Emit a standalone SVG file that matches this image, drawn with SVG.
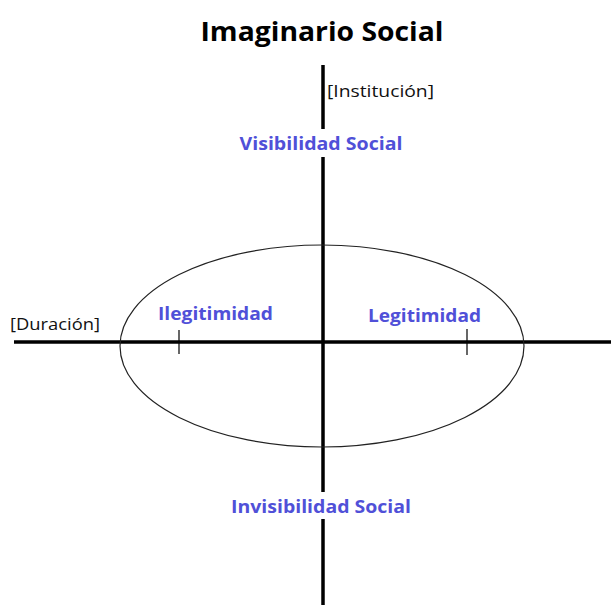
<svg xmlns="http://www.w3.org/2000/svg" width="611" height="605" viewBox="0 0 611 605">
<style>
.axis{stroke:#000;stroke-width:3.5;fill:none}
.tick{stroke:#000;stroke-width:1.2}
.lbl{font-family:"Open Sans","Liberation Sans",sans-serif;font-weight:bold;font-size:17px;fill:#5050d8}
.br{font-family:"Open Sans","Liberation Sans",sans-serif;font-size:16px;fill:#111}
.title{font-family:"Open Sans","Liberation Sans",sans-serif;font-weight:bold;font-size:27px;fill:#000}
</style>
<rect width="611" height="605" fill="#fff"/>
<g id="connectors">
<line class="axis" x1="323" y1="65" x2="323" y2="605"/>
<line class="axis" x1="14" y1="342" x2="611" y2="342"/>
<ellipse cx="322" cy="346" rx="202" ry="101" fill="none" stroke="#222" stroke-width="1.2"/>
<line class="tick" x1="179" y1="330" x2="179" y2="354"/>
<line class="tick" x1="467" y1="329" x2="467" y2="355"/>
</g>
<g id="title"><text class="title" x="322" y="41" text-anchor="middle" textLength="243" lengthAdjust="spacingAndGlyphs">Imaginario Social</text></g>
<g id="institucion"><text class="br" x="327" y="97" textLength="107" lengthAdjust="spacingAndGlyphs">[Institución]</text></g>
<g id="duracion"><text class="br" x="10" y="330" textLength="90" lengthAdjust="spacingAndGlyphs">[Duración]</text></g>
<g id="visibilidad">
<rect x="236" y="129" width="172" height="28" fill="#fff"/>
<text class="lbl" x="321" y="150" text-anchor="middle" textLength="163" lengthAdjust="spacingAndGlyphs">Visibilidad Social</text>
</g>
<g id="invisibilidad">
<rect x="227" y="492" width="188" height="27" fill="#fff"/>
<text class="lbl" x="321" y="513" text-anchor="middle" textLength="180" lengthAdjust="spacingAndGlyphs">Invisibilidad Social</text>
</g>
<g id="ilegitimidad"><text class="lbl" x="158" y="320" textLength="115" lengthAdjust="spacingAndGlyphs">Ilegitimidad</text></g>
<g id="legitimidad"><text class="lbl" x="368" y="322" textLength="113" lengthAdjust="spacingAndGlyphs">Legitimidad</text></g>
</svg>
